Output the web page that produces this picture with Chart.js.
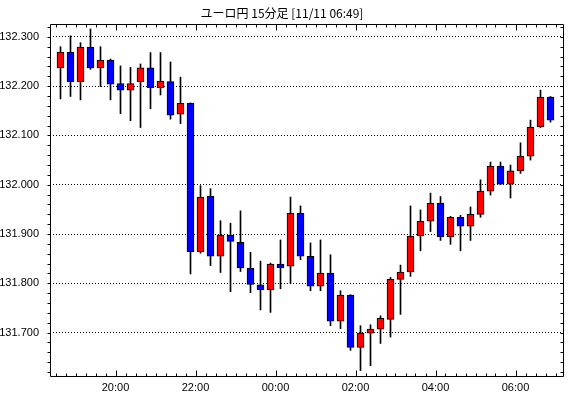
<!DOCTYPE html>
<html lang="ja">
<head>
    <meta charset="UTF-8">
    <title>ユーロ円 15分足</title>
    <script src="https://cdn.jsdelivr.net/npm/chart.js"></script>
    <style>
        body {
            margin: 0;
            background: #fff;
        }
        #wrap {
            width: 570px;
            height: 398px;
        }
    </style>
</head>
<body>
    <div id="wrap"><canvas id="myChart"></canvas></div>

    <script>
        // candle start times (15 min)
        const times = [
            '18:30','18:45','19:00','19:15','19:30','19:45','20:00','20:15','20:30','20:45',
            '21:00','21:15','21:30','21:45','22:00','22:15','22:30','22:45','23:00','23:15',
            '23:30','23:45','00:00','00:15','00:30','00:45','01:00','01:15','01:30','01:45',
            '02:00','02:15','02:30','02:45','03:00','03:15','03:30','03:45','04:00','04:15',
            '04:30','04:45','05:00','05:15','05:30','05:45','06:00','06:15','06:30','06:45'
        ];
        const opens = [
            132.237, 132.269, 132.209, 132.279, 132.237, 132.253, 132.205, 132.192, 132.209, 132.237,
            132.197, 132.209, 132.143, 132.165, 131.864, 131.977, 131.855, 131.898, 131.883, 131.831,
            131.797, 131.787, 131.839, 131.835, 131.942, 131.855, 131.794, 131.821, 131.723, 131.776,
            131.670, 131.699, 131.707, 131.727, 131.808, 131.823, 131.896, 131.926, 131.963, 131.894,
            131.934, 131.916, 131.940, 131.987, 132.038, 132.001, 132.028, 132.058, 132.117, 132.178
        ];
        const highs = [
            132.280, 132.302, 132.288, 132.316, 132.280, 132.255, 132.241, 132.238, 132.245, 132.268,
            132.268, 132.249, 132.218, 132.166, 131.998, 131.992, 131.927, 131.922, 131.947, 131.863,
            131.845, 131.841, 131.888, 131.975, 131.957, 131.882, 131.888, 131.858, 131.785, 131.777,
            131.714, 131.716, 131.734, 131.812, 131.837, 131.957, 131.949, 131.983, 131.976, 131.936,
            131.938, 131.955, 132.010, 132.046, 132.046, 132.040, 132.085, 132.131, 132.192, 132.179
        ];
        const lows = [
            132.174, 132.179, 132.172, 132.234, 132.199, 132.172, 132.144, 132.130, 132.116, 132.154,
            132.182, 132.133, 132.124, 131.819, 131.861, 131.836, 131.822, 131.783, 131.824, 131.781,
            131.746, 131.741, 131.789, 131.800, 131.848, 131.785, 131.785, 131.714, 131.708, 131.664,
            131.623, 131.633, 131.678, 131.691, 131.737, 131.814, 131.866, 131.905, 131.887, 131.879,
            131.866, 131.887, 131.934, 131.979, 132.000, 131.973, 132.023, 132.050, 132.116, 132.127
        ];
        const closes = [
            132.269, 132.209, 132.279, 132.237, 132.253, 132.204, 132.192, 132.205, 132.237, 132.197,
            132.210, 132.141, 132.165, 131.864, 131.975, 131.855, 131.898, 131.885, 131.831, 131.798,
            131.787, 131.839, 131.832, 131.942, 131.855, 131.794, 131.821, 131.723, 131.776, 131.670,
            131.699, 131.707, 131.729, 131.808, 131.823, 131.896, 131.926, 131.963, 131.894, 131.934,
            131.916, 131.940, 131.987, 132.038, 132.001, 132.028, 132.058, 132.117, 132.178, 132.131
        ];
        const yTicks = [131.7, 131.8, 131.9, 132.0, 132.1, 132.2, 132.3];
        const titleText = 'ユーロ円 15分足 [11/11 06:49]';

        const UP = '#ff0000';
        const DOWN = '#0000ff';
        const labelFont = { family: "'Liberation Sans Narrow', 'Liberation Sans', sans-serif", size: 11 };

        // x value: slot index, candle centred in its 15 min slot
        const bodies = times.map((t, i) => ({ x: i + 0.5, y: [opens[i], closes[i]] }));
        const wicks = times.map((t, i) => ({ x: i + 0.5, y: [lows[i], highs[i]] }));
        const bodyColors = opens.map((o, i) => closes[i] >= o ? UP : DOWN);

        // slots where a labelled hour starts (even hours)
        const majorSlots = [];
        times.forEach((t, i) => {
            const h = parseInt(t.slice(0, 2), 10);
            if (t.endsWith(':00') && h % 2 === 0) majorSlots.push(i);
        });

        // frame + small tick marks like the original chart
        const framePlugin = {
            id: 'frame',
            afterDraw(chart) {
                const { ctx, chartArea: a } = chart;
                const xs = chart.scales.x, ys = chart.scales.y;
                const L = Math.round(a.left) + 0.5, R = Math.round(a.right) - 0.5;
                const T = Math.round(a.top) + 0.5, B = Math.round(a.bottom) - 0.5;
                ctx.save();
                ctx.strokeStyle = '#000';
                ctx.lineWidth = 1;
                ctx.beginPath();
                ctx.rect(L, T, R - L, B - T);
                // x ticks, every slot, pointing inwards
                for (let i = 0; i <= times.length; i++) {
                    const px = Math.round(xs.getPixelForValue(i)) + 0.5;
                    const len = majorSlots.includes(i) ? 6 : 3;
                    ctx.moveTo(px, T); ctx.lineTo(px, T + len);
                    ctx.moveTo(px, B); ctx.lineTo(px, B - len);
                }
                // y ticks every 0.02, outside on the left, inside on the right
                for (let k = Math.ceil(ys.min / 0.02); k * 0.02 <= ys.max; k++) {
                    const py = Math.round(ys.getPixelForValue(k * 0.02)) + 0.5;
                    ctx.moveTo(L - 3, py); ctx.lineTo(L, py);
                    ctx.moveTo(R, py); ctx.lineTo(R - 3, py);
                }
                ctx.stroke();
                ctx.restore();
            }
        };

        new Chart(document.getElementById('myChart'), {
            type: 'bar',
            data: {
                datasets: [{
                    label: 'body',
                    data: bodies,
                    backgroundColor: bodyColors,
                    borderColor: '#000',
                    borderWidth: 1,
                    borderSkipped: false,
                    barThickness: 7,
                    grouped: false,
                    order: 0
                }, {
                    label: 'wick',
                    data: wicks,
                    backgroundColor: '#000',
                    borderWidth: 0,
                    barThickness: 1,
                    grouped: false,
                    order: 1
                }]
            },
            options: {
                responsive: true,
                maintainAspectRatio: false,
                animation: false,
                layout: { padding: { left: 0, right: 6, top: 0, bottom: 0 } },
                plugins: {
                    legend: { display: false },
                    tooltip: { enabled: false },
                    title: {
                        display: true,
                        text: titleText,
                        color: '#000',
                        font: { family: "'Noto Sans CJK JP', sans-serif", size: 12, weight: 'normal', lineHeight: 1.1667 },
                        padding: { top: 6, bottom: 4 }
                    }
                },
                scales: {
                    x: {
                        type: 'linear',
                        offset: false,
                        min: -0.55,
                        max: 50.85,
                        afterFit: s => { s.height = 21; },
                        afterBuildTicks: s => { s.ticks = majorSlots.map(v => ({ value: v })); },
                        grid: { display: false, drawTicks: false, offset: false },
                        border: { display: false },
                        ticks: {
                            color: '#000',
                            font: labelFont,
                            padding: 4,
                            maxRotation: 0,
                            autoSkip: false,
                            callback: v => times[v]
                        }
                    },
                    y: {
                        min: 131.610,
                        max: 132.326,
                        afterFit: s => { s.width = 50; },
                        afterBuildTicks: s => { s.ticks = yTicks.map(v => ({ value: v })); },
                        grid: { color: '#000', lineWidth: 1, drawTicks: false },
                        border: { display: false, dash: [1, 2] },
                        ticks: {
                            color: '#000',
                            font: labelFont,
                            padding: 11,
                            callback: v => v.toFixed(3)
                        }
                    }
                }
            },
            plugins: [framePlugin]
        });
    </script>
</body>
</html>
